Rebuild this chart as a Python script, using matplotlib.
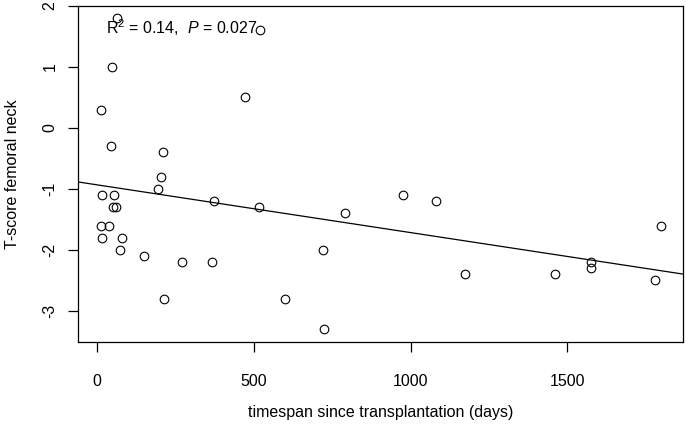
import numpy as np
import matplotlib
matplotlib.use("Agg")
import matplotlib.pyplot as plt

plt.rcParams['font.family'] = ['Liberation Sans', 'DejaVu Sans']
plt.rcParams['mathtext.fontset'] = 'custom'
plt.rcParams['mathtext.rm'] = 'Liberation Sans'
plt.rcParams['mathtext.it'] = 'Liberation Sans:italic'

# days since transplantation and femoral neck T-score
days = [62, 519, 46, 471, 11, 43, 209, 203, 195, 15, 54, 373, 51, 60, 515,
        11, 36, 16, 78, 72, 149, 271, 365, 213, 599, 977, 1080, 791, 719,
        1174, 725, 1575, 1576, 1461, 1781, 1798]
tscore = [1.8, 1.6, 1.0, 0.5, 0.3, -0.3, -0.4, -0.8, -1.0, -1.1, -1.1, -1.2,
          -1.3, -1.3, -1.3, -1.6, -1.6, -1.8, -1.8, -2.0, -2.1, -2.2, -2.2,
          -2.8, -2.8, -1.1, -1.2, -1.4, -2.0, -2.4, -3.3, -2.2, -2.3, -2.4,
          -2.5, -1.6]
x_ticks = [0, 500, 1000, 1500]
y_ticks = [-3, -2, -1, 0, 1, 2]
stats_label = r"$\mathrm{R}^2$ = 0.14,  $\mathit{P}$ = 0.027"

x = np.array(days, dtype=float)
y = np.array(tscore, dtype=float)
slope, intercept = np.polyfit(x, y, 1)

fig = plt.figure(figsize=(6.86, 4.25), dpi=100)
ax = fig.add_axes([0.1141, 0.196, 0.8815, 0.7906])

ax.plot(x, y, 'o', mfc='none', mec='black', ms=6.2, mew=0.8)

# R-style 4% padding
xr = x.max() - x.min()
yr = y.max() - y.min()
xlim = (x.min() - 0.04 * xr, x.max() + 0.04 * xr)
ax.set_xlim(xlim)
ax.set_ylim(y.min() - 0.04 * yr, y.max() + 0.04 * yr)

xl = np.array(xlim)
ax.plot(xl, intercept + slope * xl, color='black', lw=0.9)

ax.set_xticks(x_ticks)
ax.set_yticks(y_ticks)
ax.set_yticklabels([str(t) for t in y_ticks], rotation=90, va='center')
ax.tick_params(direction='out', length=7, width=0.9, labelsize=11.5)
ax.tick_params(axis='x', pad=16)
ax.tick_params(axis='y', pad=8)
for s in ax.spines.values():
    s.set_linewidth(0.9)

ax.set_xlabel("timespan since transplantation (days)", fontsize=11.5, labelpad=12)
ax.set_ylabel("T-score femoral neck", fontsize=11.5, labelpad=16)

ax.text(0.0455, 0.935, stats_label, transform=ax.transAxes,
        ha='left', va='center', fontsize=11.5)

fig.savefig("out.png", dpi=100)
